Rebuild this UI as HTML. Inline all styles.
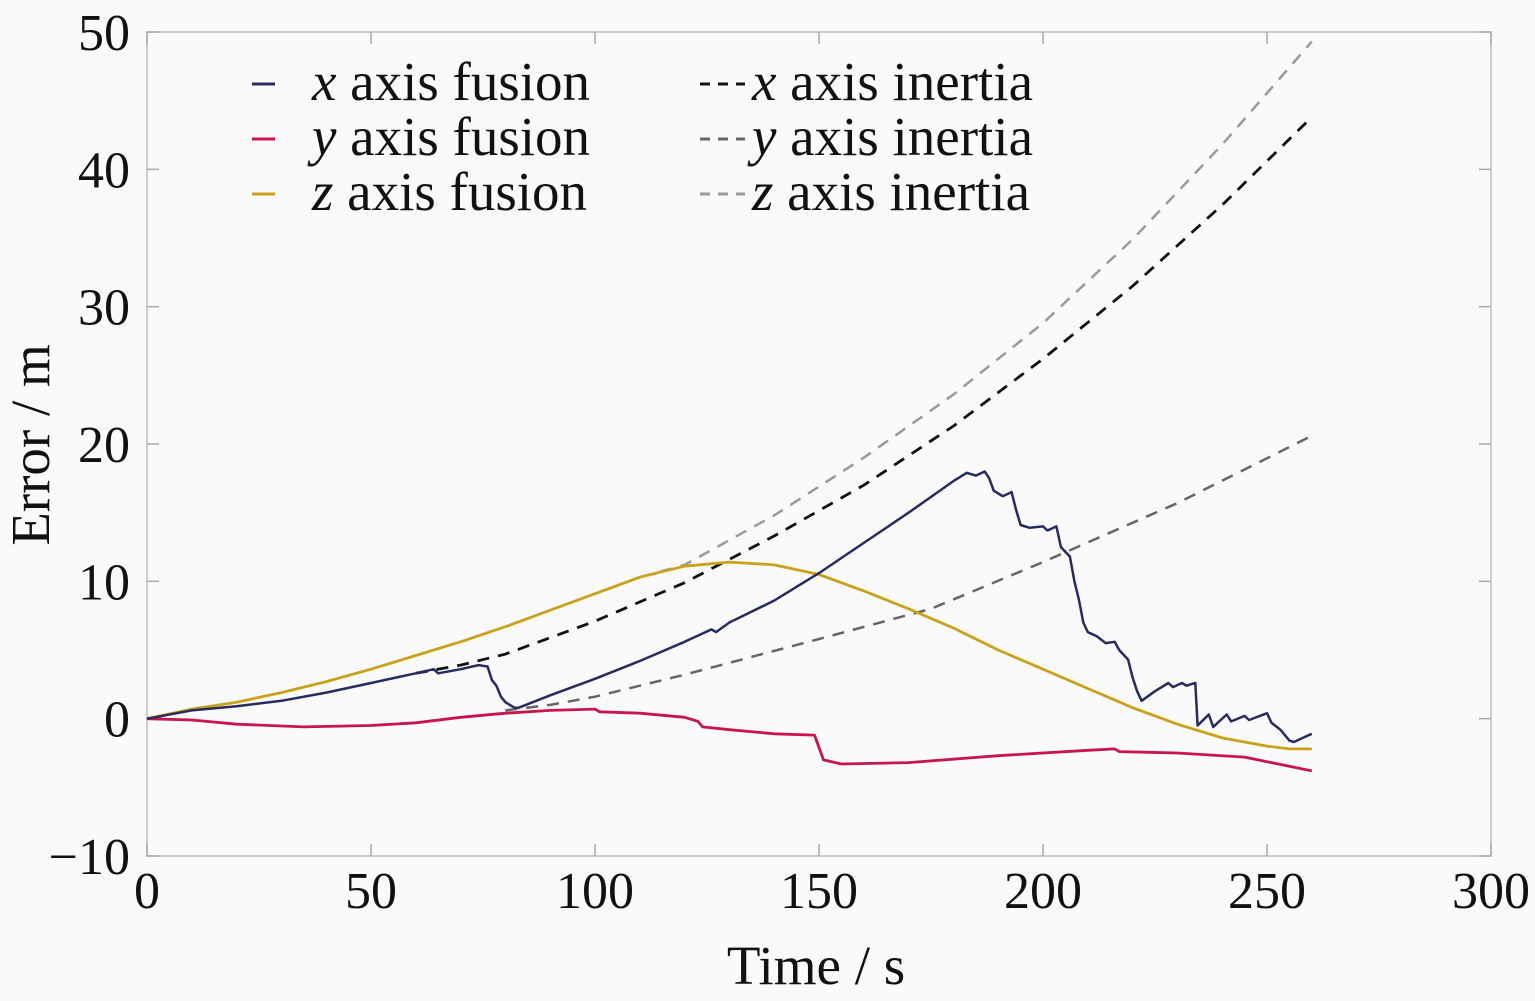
<!DOCTYPE html>
<html><head><meta charset="utf-8"><style>
html,body{margin:0;padding:0;background:#fafafa;}
svg{display:block;font-family:"Liberation Serif",serif;}
</style></head><body>
<svg id="chart" width="1535" height="1001" xmlns="http://www.w3.org/2000/svg"></svg>
<script>
const xTicks=[0,50,100,150,200,250,300];
const yTicks=[-10,0,10,20,30,40,50];
const xFusionT=[0,10,20,30,40,50,60,64,65,70,74,76,77,78,79,80,82,83,90,100,110,120,126,127,130,140,150,160,170,180,183,185,187,188,189,191,193,194,195,197,200,201,203,204,206,207,208,209,210,212,214,216,217,219,220,221,222,225,228,229,231,232,233,234,234.5,237,238,241,242,245,246,250,251,253,255,256,258,260];
const xFusionV=[0,0.6,0.9,1.3,1.9,2.6,3.3,3.6,3.3,3.6,3.9,3.8,2.8,2.4,1.6,1.2,0.8,0.8,1.7,2.9,4.2,5.6,6.5,6.3,7.0,8.6,10.6,12.8,15.0,17.3,17.9,17.7,18.0,17.5,16.6,16.2,16.5,15.2,14.1,13.9,14.0,13.7,14.0,12.5,11.8,10.0,8.7,7.0,6.3,6.0,5.5,5.6,5.0,4.3,3.0,2.0,1.3,2.0,2.6,2.3,2.6,2.4,2.5,2.6,-0.5,0.3,-0.6,0.3,-0.2,0.2,-0.1,0.4,-0.3,-0.8,-1.6,-1.7,-1.4,-1.1];
const yFusionT=[0,10,20,35,50,60,70,80,90,100,101,110,120,123,124,130,140,149,150,151,155,170,190,210,216,217,230,245,260];
const yFusionV=[0,-0.1,-0.4,-0.6,-0.5,-0.3,0.1,0.4,0.6,0.7,0.5,0.4,0.1,-0.2,-0.6,-0.8,-1.1,-1.2,-2.1,-3.0,-3.3,-3.2,-2.7,-2.3,-2.2,-2.4,-2.5,-2.8,-3.8];
const zFusionT=[0,10,20,30,40,50,60,70,80,90,100,110,120,130,140,150,160,170,180,190,200,210,220,230,240,250,255,260];
const zFusionV=[0,0.7,1.2,1.9,2.7,3.6,4.6,5.6,6.7,7.9,9.1,10.3,11.1,11.4,11.2,10.5,9.3,8.0,6.6,5.0,3.6,2.2,0.8,-0.4,-1.4,-2.0,-2.2,-2.2];
const xInertT=[60,70,80,100,120,140,160,180,200,220,240,260];
const xInertV=[3.3,3.9,4.7,7.1,9.9,13.3,17.0,21.3,26.2,31.5,37.4,43.8];
const yInertT=[80,90,100,120,150,175,200,230,260];
const yInertV=[0.6,1.0,1.6,3.2,5.8,8.0,11.4,15.7,20.6];
const zInertT=[110,120,140,160,180,200,220,240,260];
const zInertV=[10.3,11.2,14.8,19.0,23.6,28.8,34.9,41.8,49.3];

const NS="http://www.w3.org/2000/svg";
const svg=document.getElementById('chart');
const L=147,R=1491,T=32,B=856;
const sx=t=>L+(t-0)/(300-0)*(R-L);
const sy=v=>B-(v+10)/(60)*(B-T);
function mk(tag,attrs){const e=document.createElementNS(NS,tag);for(const k in attrs)e.setAttribute(k,attrs[k]);svg.appendChild(e);return e;}

const frame=mk('rect',{x:L,y:T,width:R-L,height:B-T,fill:'#fafafa',stroke:'#bdbdbd','stroke-width':1.5});



xTicks.forEach(t=>{
  const l=mk('line',{x1:sx(t),x2:sx(t),y1:B,y2:B-12,stroke:'#aaa','stroke-width':1.5});
  
  
  const tx=mk('text',{x:sx(t),y:908,'font-size':52,'text-anchor':'middle',fill:'#111'});
  tx.textContent=t;
  
  
});
yTicks.forEach(v=>{
  const l=mk('line',{x1:L,x2:L+12,y1:sy(v),y2:sy(v),stroke:'#aaa','stroke-width':1.5});
  
  
  const l2=mk('line',{x1:R,x2:R-12,y1:sy(v),y2:sy(v),stroke:'#aaa','stroke-width':1.5});
  
  
  const tx=mk('text',{x:130,y:sy(v)+18,'font-size':52,'text-anchor':'end',fill:'#111'});
  tx.textContent=v<0?'\u2212'+(-v):v;
  
  
});
xTicks.forEach(t=>{
  const l=mk('line',{x1:sx(t),x2:sx(t),y1:T,y2:T+12,stroke:'#aaa','stroke-width':1.5});
  
  
});

function series(ts,vs,color,dash,w,name){
  const d=ts.map((t,i)=>(i?'L':'M')+sx(t).toFixed(1)+','+sy(vs[i]).toFixed(1)).join(' ');
  const p=mk('path',{d:d,fill:'none',stroke:color,'stroke-width':w,'stroke-dasharray':dash||'none','stroke-linejoin':'round'});
  
  
}
series(zInertT,zInertV,'#9a9a9a','12,9',2.5,'z-inertia-line');
series(xInertT,xInertV,'#111','12,9',2.8,'x-inertia-line');
series(yInertT,yInertV,'#666','12,9',2.5,'y-inertia-line');
series(zFusionT,zFusionV,'#c9a21c','',2.8,'z-fusion-line');
series(yFusionT,yFusionV,'#c8154c','',2.8,'y-fusion-line');
series(xFusionT,xFusionV,'#272c5e','',2.5,'x-fusion-line');

const legend=[
 ['x','fusion','#272c5e','',252,312,84],
 ['y','fusion','#c8154c','',252,312,139],
 ['z','fusion','#c9a21c','',252,312,194],
 ['x','inertia','#111','10,8',700,752,84],
 ['y','inertia','#666','10,8',700,752,139],
 ['z','inertia','#9a9a9a','10,8',700,752,194]];
legend.forEach(e=>{
  const l=mk('line',{x1:e[4],x2:e[4]+(e[3]?45:23),y1:e[6],y2:e[6],stroke:e[2],'stroke-width':3,'stroke-dasharray':e[3]||'none'});
  
  
  const tx=mk('text',{x:e[5],y:e[6]+16,'font-size':55,fill:'#111'});
  tx.innerHTML='<tspan font-style="italic">'+e[0]+'</tspan> axis '+e[1];
  
  
});

const xt=mk('text',{x:816,y:984,'font-size':55,'text-anchor':'middle',fill:'#111'});
xt.textContent='Time / s';


const yt=mk('text',{x:0,y:0,'font-size':55,'text-anchor':'middle',fill:'#111',transform:'translate(49,445) rotate(-90)'});
yt.textContent='Error / m';


</script>
</body></html>
